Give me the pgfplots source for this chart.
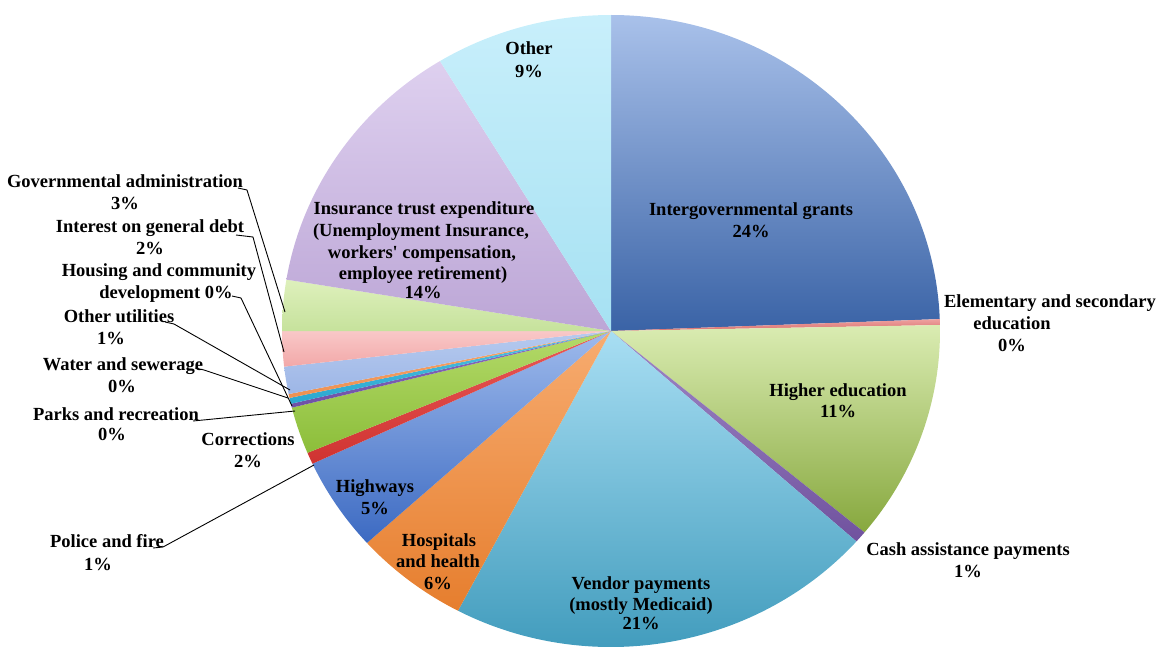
\documentclass[border=0pt]{standalone}
\usepackage{pgfplots}
\pgfplotsset{compat=1.18}
\usepackage{pgfplotstable}
\usepackage{fontspec}
\setmainfont{Liberation Serif}

% slice gradients (top / bottom)
\definecolor{igT}{HTML}{A9C1EA}\definecolor{igB}{HTML}{3A63A6}
\definecolor{elT}{HTML}{EFA2A0}\definecolor{elB}{HTML}{D8706E}
\definecolor{heT}{HTML}{DAECB2}\definecolor{heB}{HTML}{87A83E}
\definecolor{caT}{HTML}{9F88C6}\definecolor{caB}{HTML}{70529E}
\definecolor{vpT}{HTML}{A8DEF3}\definecolor{vpB}{HTML}{3896B8}
\definecolor{hoT}{HTML}{F7AC70}\definecolor{hoB}{HTML}{E67E2E}
\definecolor{hwT}{HTML}{9EBAEC}\definecolor{hwB}{HTML}{3C6AC2}
\definecolor{poT}{HTML}{EA5A58}\definecolor{poB}{HTML}{CF3331}
\definecolor{coT}{HTML}{B4DA6A}\definecolor{coB}{HTML}{8CBE3A}
\definecolor{paT}{HTML}{8E70C2}\definecolor{paB}{HTML}{6E50A6}
\definecolor{waT}{HTML}{52C2E2}\definecolor{waB}{HTML}{2AA8D0}
\definecolor{hcT}{HTML}{F6A870}\definecolor{hcB}{HTML}{EE9050}
\definecolor{ouT}{HTML}{B6CAEF}\definecolor{ouB}{HTML}{9DB6E6}
\definecolor{inT}{HTML}{F9C8C8}\definecolor{inB}{HTML}{F2A8A8}
\definecolor{gaT}{HTML}{DEF0BC}\definecolor{gaB}{HTML}{C6E29C}
\definecolor{itT}{HTML}{DED0EF}\definecolor{itB}{HTML}{BCA6D6}
\definecolor{otT}{HTML}{C8EFFB}\definecolor{otB}{HTML}{A6E1F2}

% share of total spending, percent, clockwise from 12 o'clock
\pgfplotstableread{
share top bottom
24.4 igT igB
0.3  elT elB
11.3 heT heB
0.6  caT caB
21.1 vpT vpB
5.6  hoT hoB
4.8  hwT hwB
0.6  poT poB
2.4  coT coB
0.2  paT paB
0.3  waT waB
0.2  hcT hcB
1.4  ouT ouB
1.8  inT inB
2.6  gaT gaB
13.7 itT itB
8.7  otT otB
}\slices

\newcommand\lblfont{\fontsize{18.5}{22}\selectfont\bfseries}
\newcommand\pct[1]{\pgfplotstablegetelem{#1}{share}\of\slices
  \pgfmathprintnumber[fixed,precision=0,assume math mode=true]{\pgfplotsretval}\%}
\newcommand\lbl[3]{\node[anchor=base,font=\lblfont,inner sep=0pt] at (axis cs:#1,#2) {#3};}

\begin{document}
\begin{tikzpicture}
\begin{axis}[x=1pt,y=1pt,y dir=reverse,
  xmin=0,xmax=1162,ymin=0,ymax=650,
  hide axis,clip=false,scale only axis]
\pgfplotsextra{
  \coordinate (frameBL) at (axis cs:0,650);
  \coordinate (frameTR) at (axis cs:1162,0);
  \pgfplotstablegetrowsof{\slices}
  \pgfmathtruncatemacro\lastrow{\pgfplotsretval-1}
  \xdef\startang{90}
  \foreach \i in {0,...,\lastrow}{
    \pgfplotstablegetelem{\i}{share}\of\slices\let\v\pgfplotsretval
    \pgfplotstablegetelem{\i}{top}\of\slices\let\ct\pgfplotsretval
    \pgfplotstablegetelem{\i}{bottom}\of\slices\let\cb\pgfplotsretval
    \pgfmathsetmacro\endang{\startang-3.6*\v}
    \edef\doslice{\noexpand\shade[top color=\ct,bottom color=\cb]
      (axis cs:611,331) -- ([shift={(\startang:329pt and 316pt)}]axis cs:611,331)
      arc[start angle=\startang,end angle=\endang,x radius=329pt,y radius=316pt]
      -- cycle;}
    \doslice
    \xdef\startang{\endang}
  }
}

% leader lines
\draw[black,line width=0.9pt] (axis cs:238,188) -- (axis cs:247,190) -- (axis cs:285,312);
\draw[black,line width=0.9pt] (axis cs:236,235) -- (axis cs:253,237) -- (axis cs:284,352);
\draw[black,line width=0.9pt] (axis cs:232,296) -- (axis cs:241,298) -- (axis cs:292,406);
\draw[black,line width=0.9pt] (axis cs:165,322) -- (axis cs:174,324) -- (axis cs:290,390);
\draw[black,line width=0.9pt] (axis cs:195,368) -- (axis cs:204,370) -- (axis cs:288,398);
\draw[black,line width=0.9pt] (axis cs:193,421) -- (axis cs:295,411);
\draw[black,line width=0.9pt] (axis cs:153,548) -- (axis cs:163,547) -- (axis cs:314,465);

% labels
\lbl{529}{55}{Other}
\lbl{529}{78}{\pct{16}}
\lbl{751}{215}{Intergovernmental grants}
\lbl{751}{237}{\pct{0}}
\lbl{1050}{307}{Elementary and secondary}
\lbl{1012}{329}{education}
\lbl{1012}{351}{\pct{1}}
\lbl{838}{396}{Higher education}
\lbl{838}{417}{\pct{2}}
\lbl{968}{555}{Cash assistance payments}
\lbl{968}{577}{\pct{3}}
\lbl{641}{589}{Vendor payments}
\lbl{641}{610}{(mostly Medicaid)}
\lbl{641}{629}{\pct{4}}
\lbl{439}{546}{Hospitals}
\lbl{438}{567}{and health}
\lbl{438}{589}{\pct{5}}
\lbl{375}{492}{Highways}
\lbl{375}{514}{\pct{6}}
\lbl{107}{547}{Police and fire}
\lbl{98}{570}{\pct{7}}
\lbl{248}{445}{Corrections}
\lbl{248}{467}{\pct{8}}
\lbl{116}{420}{Parks and recreation}
\lbl{112}{440}{\pct{9}}
\lbl{123}{370}{Water and sewerage}
\lbl{122}{392}{\pct{10}}
\lbl{159}{276}{Housing and community}
\lbl{166}{298}{development \pct{11}}
\lbl{119}{322}{Other utilities}
\lbl{111}{344}{\pct{12}}
\lbl{150}{232}{Interest on general debt}
\lbl{150}{254}{\pct{13}}
\lbl{125}{187}{Governmental administration}
\lbl{125}{209}{\pct{14}}
\lbl{424}{214}{Insurance trust expenditure}
\lbl{421}{236}{(Unemployment Insurance,}
\lbl{422}{258}{workers\textquotesingle\ compensation,}
\lbl{423}{279}{employee retirement)}
\lbl{423}{298}{\pct{15}}
\end{axis}
\pgfresetboundingbox
\path[use as bounding box] (frameBL) rectangle (frameTR);
\end{tikzpicture}
\end{document}
